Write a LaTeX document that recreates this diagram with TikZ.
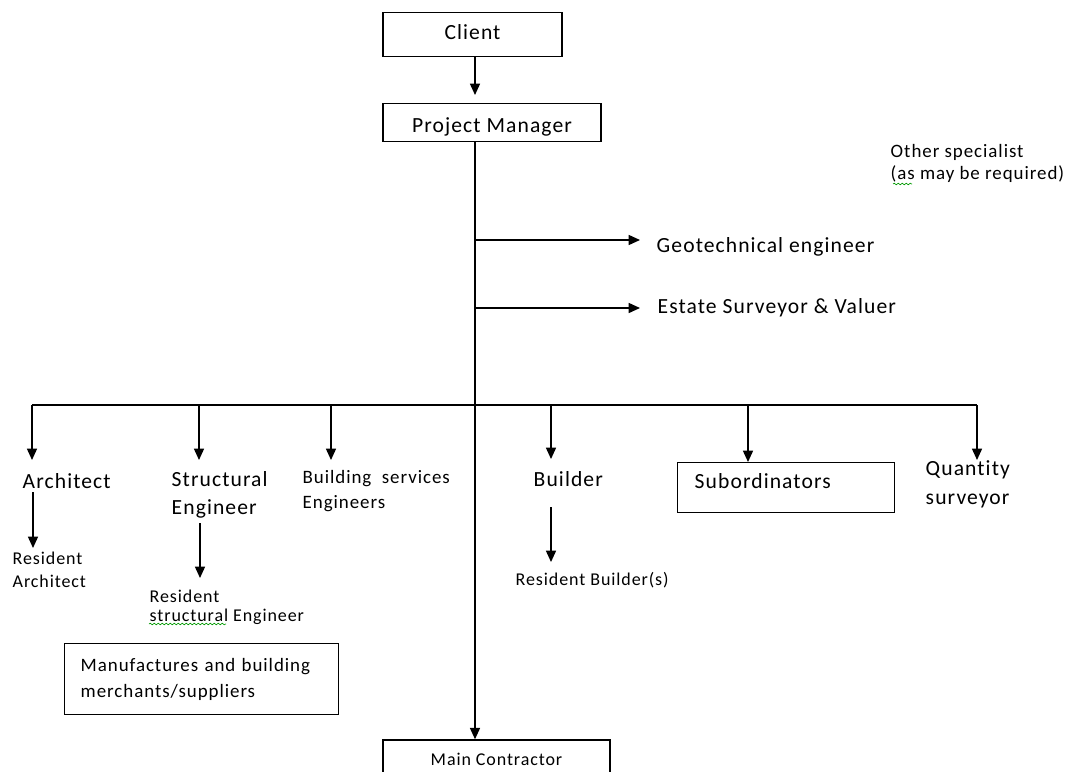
\documentclass[tikz,border=0pt]{standalone}
\usepackage{fontspec}
\setmainfont{Carlito}[LetterSpace=5,Ligatures={NoCommon}]
\usetikzlibrary{arrows.meta,decorations.pathmorphing}
\def\pxu{0.75pt}

\begin{document}
\begin{tikzpicture}[x=0.75pt,y=-0.75pt,
	line width=1.1pt,
	box/.style={draw,inner sep=0pt},
	lbl/.style={inner sep=0pt,anchor=west,align=left},
	big/.style={font=\fontsize{16.2}{21}\selectfont},
	mid/.style={font=\fontsize{14.2}{18.75}\selectfont},
	small/.style={font=\fontsize{13.5}{17.25}\selectfont},
	arr/.style={-{Triangle[width=7.5pt,length=8.5pt]}},
	squiggle/.style={draw=green!60!black,line width=0.5pt,decorate,
		decoration={snake,amplitude=0.6pt,segment length=3pt}}]
		%%%%% FRAME %%%%%
		\useasboundingbox (0,0) rectangle (1070,771);
		
		%%%%% BOXES %%%%%
		\node[box,big,anchor=north,minimum width=179*\pxu,text height=20.25pt,text depth=12.75pt] (client) at (472.5,12) {Client};
		\node[box,big,anchor=north,minimum width=218*\pxu,text height=21.75pt,text depth=6.75pt] (pm) at (492,103) {Project Manager};
		\node[box,small,minimum width=227*\pxu,minimum height=38*\pxu] (main) at (496.5,759) {Main Contractor};
		\node[box,big,anchor=north west,text height=19.5pt,text depth=18pt,
			text width=183*\pxu,inner xsep=17*\pxu,align=left] (sub) at (677,462) {Subordinators};
		\node[box,anchor=north west,minimum width=274*\pxu,minimum height=71*\pxu,
			text width=242*\pxu,inner xsep=16*\pxu,align=left,font=\fontsize{14.2}{19.5}\selectfont] (manuf) at (64,643)
			{Manufactures and building\\merchants/suppliers};
		
		%%%%% LABELS %%%%%
		\node[lbl,font=\fontsize{14.2}{16.5}\selectfont] (other) at (890,163) {Other specialist\\(as may be required)};
		\node[lbl,big] (geo) at (656,247) {Geotechnical engineer};
		\node[lbl,big] (estate) at (657,308) {Estate Surveyor \& Valuer};
		\node[lbl,big] (arch) at (22,481) {Architect};
		\node[lbl,big] (struct) at (171,495) {Structural\\Engineer};
		\node[lbl,mid] (bse) at (302,491.5) {Building~ services\\Engineers};
		\node[lbl,big] (builder) at (533,479) {Builder};
		\node[lbl,font=\fontsize{16.2}{21.75}\selectfont] (qs) at (925,484.5) {Quantity\\surveyor};
		\node[lbl,small] (resarch) at (12,569.5) {Resident\\Architect};
		\node[lbl,font=\fontsize{13.5}{14.25}\selectfont] (resstruct) at (149,607.5) {Resident\\structural Engineer};
		\node[lbl,small] (resbuild) at (515,580) {Resident Builder(s)};
		
		%%%%% SPELL MARKS %%%%%
		\draw[squiggle] (893,184) -- (912,184);
		\draw[squiggle] (149,624) -- (226,624);
		
		%%%%% CONNECTORS %%%%%
		\coordinate (trunk) at (475,0);
		\draw[arr] (client.south -| trunk) -- ([yshift=8*\pxu]pm.north -| trunk);
		\draw[arr] (pm.south -| trunk) -- (main.north -| trunk);
		\draw[arr] (475,240) -- ([xshift=-16*\pxu,yshift=7*\pxu]geo.west);
		\draw[arr] (475,308) -- ([xshift=-17*\pxu]estate.west);
		
		\coordinate (busL) at (32,405);
		\coordinate (busR) at (977,405);
		\draw (busL) -- (busR);
		\foreach \x/\y in {32/460,199/460,331/460,551/459,748/462,977/460}
			\draw[arr] (\x,405) -- (\x,\y);
		
		\draw[arr] (33,492) -- (33,548);
		\draw[arr] (200,523) -- (200,578);
		\draw[arr] (551,507) -- (551,562);
\end{tikzpicture}
\end{document}
